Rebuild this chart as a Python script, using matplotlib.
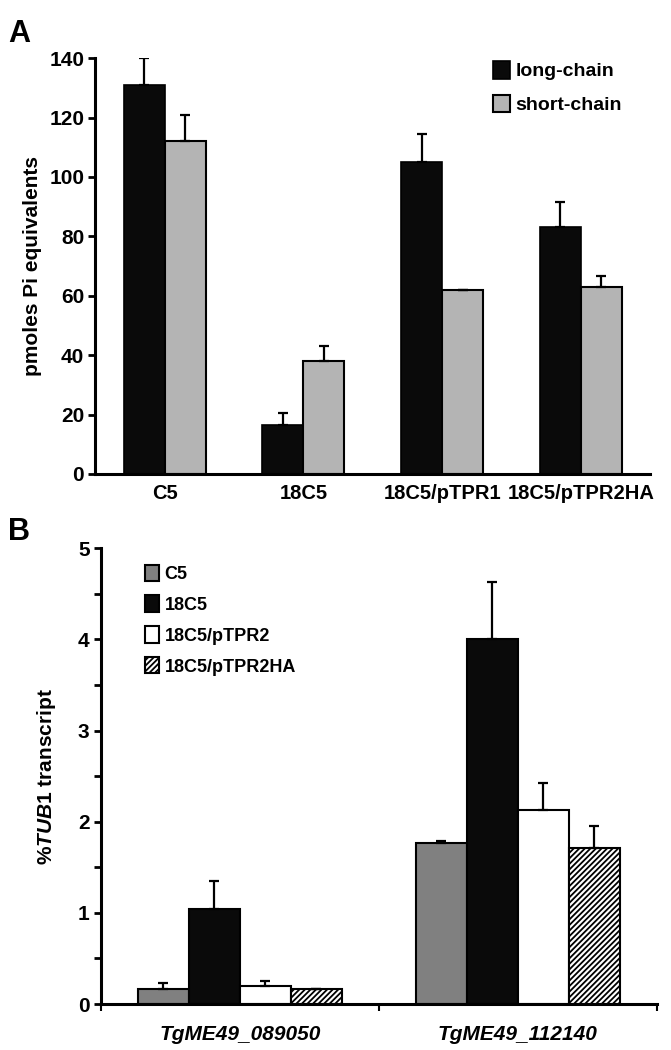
import matplotlib
matplotlib.use('Agg')
import matplotlib.pyplot as plt
import numpy as np

plt.rcParams['font.family'] = ['Liberation Sans', 'DejaVu Sans']
plt.rcParams['font.weight'] = 'bold'
plt.rcParams['mathtext.fontset'] = 'custom'
plt.rcParams['mathtext.it'] = 'Liberation Sans:italic:bold'
plt.rcParams['mathtext.rm'] = 'Liberation Sans:bold'
plt.rcParams['hatch.linewidth'] = 1.3

# panel A data
groups_a = ['C5', '18C5', '18C5/pTPR1', '18C5/pTPR2HA']
long_chain = [131, 16.5, 105, 83]
long_err = [9, 4, 9.5, 8.5]
short_chain = [112, 38, 62, 63]
short_err = [9, 5, 0, 3.5]

# panel B data
genes_b = ['TgME49_089050', 'TgME49_112140']
strains_b = ['C5', '18C5', '18C5/pTPR2', '18C5/pTPR2HA']
tub1_vals = [[0.17, 1.77], [1.04, 4.0], [0.20, 2.13], [0.16, 1.71]]
tub1_err = [[0.06, 0.02], [0.31, 0.63], [0.05, 0.29], [0.01, 0.24]]

fig = plt.figure(figsize=(6.71, 10.5), dpi=100)

# ---------- Panel A ----------
ax = fig.add_axes([0.142, 0.5486, 0.827, 0.396])
x = np.arange(len(groups_a))
w = 0.295
ekw = dict(ecolor='black', elinewidth=1.6, capsize=3.5, capthick=1.6)
ax.bar(x - w / 2, long_chain, w, color='#0a0a0a', edgecolor='black', linewidth=1.2,
       label='long-chain', yerr=[np.zeros(4), long_err], error_kw=ekw)
ax.bar(x + w / 2, short_chain, w, color='#b4b4b4', edgecolor='black', linewidth=1.5,
       label='short-chain', yerr=[np.zeros(4), short_err], error_kw=ekw)
ax.set_xlim(-0.5, 3.5)
ax.set_ylim(0, 140)
ax.set_yticks(range(0, 141, 20))
ax.set_xticks(x)
ax.set_xticklabels(groups_a, fontsize=14.5, fontweight='bold')
ax.tick_params(axis='x', length=0, pad=7)
ax.tick_params(axis='y', labelsize=15, width=2, length=5, direction='out', pad=3)
for s in ['top', 'right']:
    ax.spines[s].set_visible(False)
for s in ['left', 'bottom']:
    ax.spines[s].set_linewidth(2.2)
ax.set_ylabel('pmoles Pi equivalents', fontsize=15, fontweight='bold', labelpad=5)
ax.legend(loc='upper left', bbox_to_anchor=(0.685, 1.035), frameon=False, fontsize=14,
          handlelength=0.9, handleheight=1.0, handletextpad=0.25, labelspacing=0.75)
fig.text(0.012, 0.982, 'A', fontsize=22, fontweight='bold', va='top')

# ---------- Panel B ----------
bx = fig.add_axes([0.150, 0.0438, 0.829, 0.434])
xb = np.arange(len(genes_b))
wb = 0.183
colors_b = ['#808080', '#0a0a0a', 'white', 'white']
hatches_b = [None, None, None, '//////']
for i, lab in enumerate(strains_b):
    bx.bar(xb + (i - 1.5) * wb, tub1_vals[i], wb, color=colors_b[i], edgecolor='black',
           linewidth=1.5, hatch=hatches_b[i], label=lab,
           yerr=[np.zeros(2), tub1_err[i]], error_kw=ekw)
bx.set_xlim(-0.5, 1.5)
bx.set_ylim(0, 5)
bx.set_yticks(range(0, 6))
bx.set_yticks(np.arange(0.5, 5, 1.0), minor=True)
bx.set_xticks(xb)
bx.set_xticklabels(genes_b, fontsize=15, fontweight='bold', fontstyle='italic')
bx.set_xticks([-0.5, 0.5, 1.5], minor=True)
bx.tick_params(axis='x', which='major', length=0, pad=15)
bx.tick_params(axis='x', which='minor', length=5, width=1.5, direction='out')
bx.tick_params(axis='y', which='both', labelsize=15, width=2, length=5, direction='out', pad=3)
for s in ['top', 'right']:
    bx.spines[s].set_visible(False)
for s in ['left', 'bottom']:
    bx.spines[s].set_linewidth(2.2)
bx.set_ylabel(r'%$\mathit{TUB1}$ transcript', fontsize=15, fontweight='bold', labelpad=14)
bx.legend(loc='upper left', bbox_to_anchor=(0.05, 1.0), frameon=False, fontsize=13,
          handlelength=0.8, handleheight=1.0, handletextpad=0.3, labelspacing=0.7)
fig.text(0.012, 0.508, 'B', fontsize=22, fontweight='bold', va='top')

fig.savefig('out.png', dpi=100)
